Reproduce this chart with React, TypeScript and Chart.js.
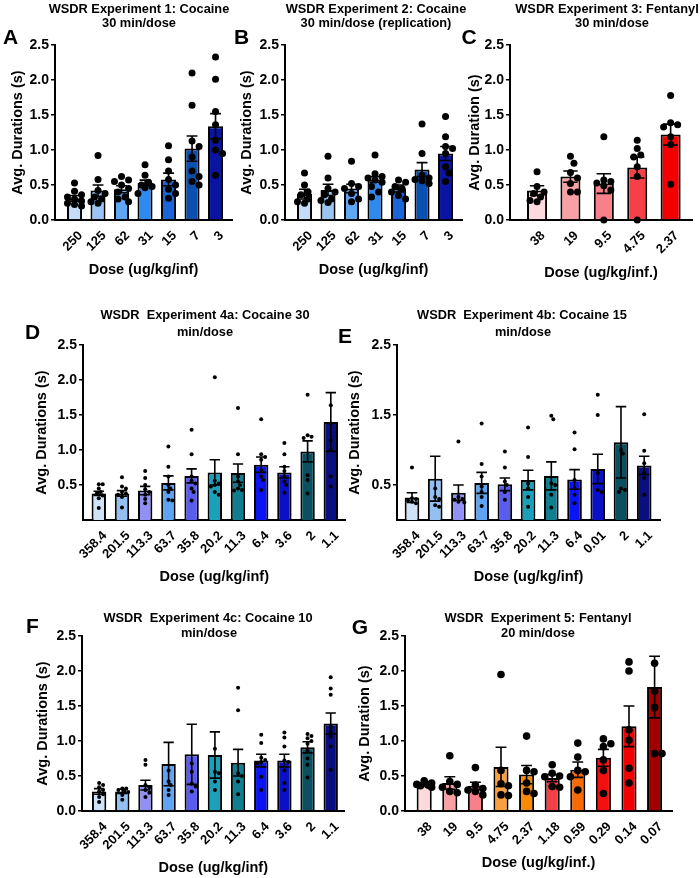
import React, { useEffect, useRef } from 'react';
import { Chart, registerables } from 'chart.js';
Chart.register(...registerables);

const FONT = "'Liberation Sans', Arial, Helvetica, sans-serif";

// ---------- DATA ----------
const labelsA = ['250', '125', '62', '31', '15', '7', '3'];
const meanA = [0.31, 0.42, 0.44, 0.53, 0.58, 1.02, 1.34];
const semA = [0.04, 0.08, 0.05, 0.04, 0.09, 0.18, 0.18];
const ptsA = [
  [0.53, 0.41, 0.36, 0.33, 0.30, 0.27, 0.24, 0.22, 0.20],
  [0.92, 0.58, 0.42, 0.38, 0.33, 0.30, 0.26, 0.24],
  [0.62, 0.57, 0.55, 0.50, 0.45, 0.40, 0.33, 0.30, 0.26],
  [0.79, 0.64, 0.54, 0.50, 0.48, 0.46, 0.38],
  [1.06, 0.86, 0.70, 0.58, 0.50, 0.44, 0.38, 0.31],
  [2.10, 1.64, 1.13, 1.05, 0.90, 0.70, 0.62, 0.55, 0.50],
  [2.33, 2.01, 1.55, 1.36, 1.14, 1.00, 0.95, 0.64],
];

const labelsB = ['250', '125', '62', '31', '15', '7', '3'];
const meanB = [0.37, 0.43, 0.45, 0.58, 0.45, 0.72, 0.95];
const semB = [0.07, 0.08, 0.06, 0.04, 0.05, 0.10, 0.10];
const ptsB = [
  [0.67, 0.50, 0.40, 0.36, 0.30, 0.26, 0.24],
  [0.91, 0.60, 0.45, 0.40, 0.36, 0.30, 0.28, 0.25],
  [0.84, 0.52, 0.48, 0.45, 0.38, 0.30, 0.26],
  [0.93, 0.66, 0.62, 0.60, 0.57, 0.54, 0.48, 0.40, 0.33],
  [0.57, 0.54, 0.48, 0.45, 0.40, 0.35, 0.30],
  [1.37, 0.95, 0.64, 0.60, 0.58, 0.56, 0.52],
  [1.48, 1.19, 1.05, 1.02, 0.95, 0.76, 0.67, 0.55],
];

const labelsC = ['38', '19', '9.5', '4.75', '2.37'];
const meanC = [0.42, 0.62, 0.52, 0.75, 1.22];
const semC = [0.07, 0.08, 0.14, 0.15, 0.15];
const ptsC = [
  [0.69, 0.48, 0.40, 0.38, 0.33, 0.28, 0.26],
  [0.91, 0.81, 0.68, 0.60, 0.52, 0.40, 0.40],
  [1.19, 0.57, 0.55, 0.53, 0.49, 0.43, 0.0],
  [1.14, 1.02, 0.93, 0.90, 0.76, 0.62, 0.0],
  [1.78, 1.39, 1.36, 1.33, 1.19, 1.08, 0.51],
];

const labelsD = ['358.4', '201.5', '113.3', '63.7', '35.8', '20.2', '11.3', '6.4', '3.6', '2', '1.1'];
const meanD = [0.38, 0.38, 0.42, 0.53, 0.63, 0.68, 0.67, 0.79, 0.68, 0.98, 1.40];
const semD = [0.03, 0.04, 0.06, 0.10, 0.10, 0.18, 0.13, 0.11, 0.08, 0.15, 0.42];
const ptsD = [
  [0.51, 0.51, 0.45, 0.40, 0.38, 0.35, 0.31, 0.17],
  [0.61, 0.48, 0.45, 0.40, 0.38, 0.36, 0.33, 0.18],
  [0.70, 0.60, 0.50, 0.44, 0.40, 0.36, 0.30, 0.24],
  [1.05, 0.76, 0.62, 0.50, 0.45, 0.40, 0.29, 0.28],
  [1.29, 0.94, 0.62, 0.56, 0.52, 0.45, 0.40, 0.28],
  [2.04, 0.56, 0.52, 0.50, 0.48, 0.40, 0.36],
  [1.60, 0.94, 0.62, 0.55, 0.50, 0.45, 0.43, 0.42],
  [1.44, 0.94, 0.90, 0.86, 0.71, 0.62, 0.57, 0.43],
  [1.10, 0.94, 0.76, 0.70, 0.62, 0.55, 0.50, 0.39],
  [1.79, 1.21, 1.19, 1.17, 0.64, 0.57, 0.38],
  [1.64, 1.38, 1.14, 1.00, 0.62, 0.48],
];

const labelsE = ['358.4', '201.5', '113.3', '63.7', '35.8', '20.2', '11.3', '6.4', '0.01', '2', '1.1'];
const meanE = [0.32, 0.59, 0.39, 0.53, 0.51, 0.57, 0.63, 0.58, 0.73, 1.11, 0.78];
const semE = [0.07, 0.32, 0.11, 0.15, 0.09, 0.14, 0.20, 0.14, 0.21, 0.51, 0.13];
const ptsE = [
  [0.75, 0.31, 0.30, 0.28, 0.26, 0.24],
  [0.45, 0.33, 0.30, 0.21, 0.19],
  [1.12, 0.33, 0.30, 0.29, 0.26, 0.25],
  [1.38, 0.80, 0.62, 0.48, 0.40, 0.33, 0.20],
  [0.98, 0.75, 0.55, 0.50, 0.40, 0.29],
  [1.32, 0.90, 0.52, 0.45, 0.33, 0.19],
  [1.49, 1.44, 0.52, 0.50, 0.36, 0.18],
  [1.25, 1.01, 0.57, 0.45, 0.36, 0.24],
  [1.79, 1.50, 0.67, 0.43, 0.40],
  [1.00, 0.95, 0.45, 0.43, 0.40],
  [1.51, 0.99, 0.81, 0.67, 0.60, 0.36],
];

const labelsF = ['358.4', '201.5', '113.3', '63.7', '35.8', '20.2', '11.3', '6.4', '3.6', '2', '1.1'];
const meanF = [0.28, 0.28, 0.37, 0.67, 0.81, 0.80, 0.69, 0.72, 0.72, 0.91, 1.25];
const semF = [0.04, 0.03, 0.07, 0.31, 0.43, 0.33, 0.19, 0.09, 0.09, 0.08, 0.15];
const ptsF = [
  [0.40, 0.37, 0.34, 0.30, 0.28, 0.24, 0.20, 0.13],
  [0.32, 0.32, 0.30, 0.29, 0.27, 0.23, 0.16],
  [0.73, 0.66, 0.37, 0.34, 0.30, 0.26, 0.20],
  [0.58, 0.42, 0.37, 0.30, 0.23],
  [0.68, 0.56, 0.39, 0.35, 0.28],
  [0.89, 0.56, 0.54, 0.42, 0.30],
  [1.76, 1.44, 0.54, 0.50, 0.42, 0.24],
  [1.09, 0.97, 0.76, 0.73, 0.70, 0.68, 0.49, 0.30],
  [1.12, 1.05, 0.92, 0.72, 0.70, 0.58, 0.40, 0.30],
  [1.10, 1.07, 1.04, 1.00, 0.96, 0.86, 0.75, 0.66, 0.48],
  [1.91, 1.75, 1.66, 1.20, 1.13, 1.06, 0.92, 0.59],
];

const labelsG = ['38', '19', '9.5', '4.75', '2.37', '1.18', '0.59', '0.29', '0.14', '0.07'];
const meanG = [0.38, 0.40, 0.36, 0.63, 0.52, 0.47, 0.59, 0.76, 1.21, 1.77];
const semG = [0.02, 0.09, 0.05, 0.28, 0.13, 0.05, 0.11, 0.12, 0.29, 0.44];
const ptsG = [
  [0.43, 0.40, 0.38, 0.37, 0.36, 0.34],
  [0.79, 0.42, 0.38, 0.34, 0.28, 0.26],
  [0.62, 0.37, 0.32, 0.30, 0.28, 0.23],
  [1.95, 0.58, 0.39, 0.36, 0.23, 0.22],
  [1.07, 0.58, 0.56, 0.40, 0.28, 0.25],
  [0.66, 0.54, 0.50, 0.49, 0.35, 0.34],
  [0.97, 0.77, 0.58, 0.56, 0.49, 0.30],
  [1.03, 0.96, 0.92, 0.73, 0.58, 0.25],
  [2.13, 2.00, 1.16, 1.01, 0.61, 0.40],
  [2.11, 1.71, 1.48, 0.82, 0.82],
];

const yTicksFull = [0, 0.5, 1.0, 1.5, 2.0, 2.5];
const yTicksD = [0.5, 1.0, 1.5, 2.0, 2.5];
const yTicksE = [0.5, 1.5, 2.5];

// ---------- STYLES ----------
const blues7 = ['#c5dcf8', '#9ac4f5', '#5fa6f3', '#2f8af0', '#1a66d8', '#0a50b0', '#0a14a0'];
const reds5 = ['#fcd9dc', '#f9a0a5', '#f7808a', '#f64048', '#f50000'];
const blues11 = ['#cfe2f8', '#93bff2', '#9090f5', '#5ea4f2', '#5a5cf0', '#1aa0b8', '#0f7f8f', '#0a14f5', '#0a10c8', '#0a5060', '#0a0f80'];
const reds10 = ['#fcdadc', '#f9a0a5', '#f7808a', '#f8a040', '#f88a05', '#f54048', '#f86a05', '#f51010', '#f50000', '#a00000'];

const AXIS_TITLE_SIZE = 14.5;

type Spec = {
  letter: string; title: string[]; yTitle: string; xTitle: string;
  labels: string[]; means: number[]; sems: number[]; points: number[][];
  colors: string[]; yTicks: number[];
  box: { left: number; top: number; w: number; h: number };
  area: { L: number; T: number; R: number; B: number };
  xMin: number; xMax: number; barFrac: number; dot: number; swX: number; swY: number;
  yTitleX: number; xTitleY: number; titlePos: [number, number][]; letterPos: [number, number];
};

const specs: Spec[] = [
  {
    letter: 'A', title: ['WSDR Experiment 1: Cocaine', '30 min/dose'], yTitle: 'Avg. Durations (s)', xTitle: 'Dose (ug/kg/inf)',
    labels: labelsA, means: meanA, sems: semA, points: ptsA, colors: blues7, yTicks: yTicksFull,
    box: { left: 0, top: 0, w: 236, h: 290 }, area: { L: 55, T: 45, R: 232, B: 220 },
    xMin: -0.83, xMax: 6.7, barFrac: 0.64, dot: 3.5, swX: 0.3, swY: 0.1,
    yTitleX: 18, xTitleY: 270, titlePos: [[139, 9], [139, 23]], letterPos: [10.5, 35.5],
  },
  {
    letter: 'B', title: ['WSDR Experiment 2: Cocaine', '30 min/dose (replication)'], yTitle: 'Avg. Durations (s)', xTitle: 'Dose (ug/kg/inf)',
    labels: labelsB, means: meanB, sems: semB, points: ptsB, colors: blues7, yTicks: yTicksFull,
    box: { left: 230, top: 0, w: 236, h: 290 }, area: { L: 285, T: 45, R: 462, B: 220 },
    xMin: -0.83, xMax: 6.7, barFrac: 0.64, dot: 3.5, swX: 0.3, swY: 0.1,
    yTitleX: 247, xTitleY: 270, titlePos: [[376, 9], [376, 23]], letterPos: [241.5, 35.5],
  },
  {
    letter: 'C', title: ['WSDR Experiment 3: Fentanyl', '30 min/dose'], yTitle: 'Avg. Duration (s)', xTitle: 'Dose (ug/kg/inf.)',
    labels: labelsC, means: meanC, sems: semC, points: ptsC, colors: reds5, yTicks: yTicksFull,
    box: { left: 460, top: 0, w: 240, h: 290 }, area: { L: 510, T: 45, R: 692, B: 220 },
    xMin: -0.81, xMax: 4.64, barFrac: 0.6, dot: 3.5, swX: 0.21, swY: 0.1,
    yTitleX: 475, xTitleY: 273, titlePos: [[607, 9], [612, 23]], letterPos: [469, 36],
  },
  {
    letter: 'D', title: ['WSDR  Experiment 4a: Cocaine 30', 'min/dose'], yTitle: 'Avg. Durations (s)', xTitle: 'Dose (ug/kg/inf)',
    labels: labelsD, means: meanD, sems: semD, points: ptsD, colors: blues11, yTicks: yTicksD,
    box: { left: 0, top: 300, w: 350, h: 290 }, area: { L: 83, T: 345, R: 347, B: 520 },
    xMin: -0.68, xMax: 10.63, barFrac: 0.62, dot: 2, swX: 0.17, swY: 0.057,
    yTitleX: 42, xTitleY: 577, titlePos: [[205, 315], [205, 332]], letterPos: [32.5, 331],
  },
  {
    letter: 'E', title: ['WSDR  Experiment 4b: Cocaine 15', 'min/dose'], yTitle: 'Avg. Durations (s)', xTitle: 'Dose (ug/kg/inf)',
    labels: labelsE, means: meanE, sems: semE, points: ptsE, colors: blues11, yTicks: yTicksE,
    box: { left: 340, top: 300, w: 360, h: 290 }, area: { L: 397, T: 345, R: 660, B: 520 },
    xMin: -0.645, xMax: 10.68, barFrac: 0.63, dot: 2, swX: 0.17, swY: 0.057,
    yTitleX: 355, xTitleY: 577, titlePos: [[522, 315], [523, 332]], letterPos: [345, 334.5],
  },
  {
    letter: 'F', title: ['WSDR  Experiment 4c: Cocaine 10', 'min/dose'], yTitle: 'Avg. Durations (s)', xTitle: 'Dose (ug/kg/inf)',
    labels: labelsF, means: meanF, sems: semF, points: ptsF, colors: blues11, yTicks: yTicksFull,
    box: { left: 0, top: 590, w: 350, h: 288 }, area: { L: 82, T: 636, R: 345, B: 811 },
    xMin: -0.74, xMax: 10.59, barFrac: 0.62, dot: 2, swX: 0.17, swY: 0.057,
    yTitleX: 43, xTitleY: 868, titlePos: [[208, 618], [209, 633]], letterPos: [32.5, 624.5],
  },
  {
    letter: 'G', title: ['WSDR  Experiment 5: Fentanyl', '20 min/dose'], yTitle: 'Avg. Duration (s)', xTitle: 'Dose (ug/kg/inf.)',
    labels: labelsG, means: meanG, sems: semG, points: ptsG, colors: reds10, yTicks: yTicksFull,
    box: { left: 350, top: 590, w: 350, h: 288 }, area: { L: 405, T: 636, R: 672, B: 811 },
    xMin: -0.75, xMax: 9.68, barFrac: 0.59, dot: 3.8, swX: 0.29, swY: 0.105,
    yTitleX: 365, xTitleY: 863, titlePos: [[538, 618], [538, 633]], letterPos: [360, 626],
  },
];

// simple deterministic beeswarm (offsets in category units)
function swarm(vals: number[], dx: number, dy: number): number[] {
  const order = vals.map((_, i) => i).sort((a, b) => vals[b] - vals[a]);
  const placed: { x: number; y: number }[] = [];
  const out = new Array(vals.length).fill(0);
  const cands: number[] = [0];
  for (let k = 1; k * dx * 0.5 <= 0.31; k++) { cands.push(k * dx * 0.5, -k * dx * 0.5); }
  for (const i of order) {
    const y = vals[i];
    let best = 0, bestD = -1;
    for (const c of cands) {
      let dmin = Infinity;
      for (const p of placed) {
        const d = ((c - p.x) / dx) ** 2 + ((y - p.y) / dy) ** 2;
        if (d < dmin) dmin = d;
      }
      if (dmin >= 1) { best = c; break; }
      if (dmin > bestD) { bestD = dmin; best = c; }
    }
    placed.push({ x: best, y });
    out[i] = best;
  }
  return out;
}

function errorBars(sems: number[]) {
  return {
    id: 'errorBars',
    afterDatasetsDraw(chart: any) {
      const meta = chart.getDatasetMeta(0);
      const ys = chart.scales.y;
      const data = chart.data.datasets[0].data as { x: number; y: number }[];
      const ctx = chart.ctx;
      ctx.save();
      ctx.strokeStyle = '#000';
      ctx.lineWidth = 1.6;
      meta.data.forEach((bar: any, i: number) => {
        const m = data[i].y;
        const top = ys.getPixelForValue(m + sems[i]);
        const bot = ys.getPixelForValue(Math.max(0, m - sems[i]));
        const w = bar.width * 0.72;
        ctx.beginPath();
        ctx.moveTo(bar.x, top); ctx.lineTo(bar.x, bot);
        ctx.moveTo(bar.x - w / 2, top); ctx.lineTo(bar.x + w / 2, top);
        ctx.moveTo(bar.x - w / 2, bot); ctx.lineTo(bar.x + w / 2, bot);
        ctx.stroke();
      });
      ctx.restore();
    },
  };
}

function buildConfig(p: Spec): any {
  const { box, area } = p;
  const yWidth = area.L - box.left;
  const xHeight = box.top + box.h - area.B;
  const lh = AXIS_TITLE_SIZE * 1.2;
  const bars = p.means.map((m, i) => ({ x: i, y: m }));
  const pts = p.points.flatMap((arr, i) => {
    const off = swarm(arr, p.swX, p.swY);
    return arr.map((v, j) => ({ x: i + off[j], y: v }));
  });
  return {
    type: 'bar',
    data: {
      datasets: [
        {
          type: 'bar', data: bars, backgroundColor: p.colors, borderColor: '#000', borderWidth: 2,
          barPercentage: p.barFrac, categoryPercentage: 1, order: 2,
        },
        {
          type: 'scatter', data: pts, pointRadius: p.dot, pointHoverRadius: p.dot,
          pointBackgroundColor: '#000', pointBorderColor: '#000', pointBorderWidth: 0, order: 1, clip: false,
        },
      ],
    },
    options: {
      responsive: false,
      animation: false,
      events: [],
      layout: { padding: { left: 0, top: area.T - box.top, right: box.left + box.w - area.R, bottom: 0 } },
      plugins: { legend: { display: false }, tooltip: { enabled: false }, title: { display: false } },
      scales: {
        x: {
          type: 'linear', min: p.xMin, max: p.xMax, offset: false, bounds: 'data',
          afterBuildTicks: (s: any) => { s.ticks = p.labels.map((_, i) => ({ value: i })); },
          afterFit: (s: any) => { s.height = xHeight; },
          ticks: {
            autoSkip: false, minRotation: 45, maxRotation: 45, color: '#000', padding: 8, labelOffset: 6,
            font: { family: FONT, size: 13, weight: 'bold' },
            callback: (v: any) => p.labels[Math.round(v)] ?? '',
          },
          grid: { display: false, drawTicks: false },
          border: { display: true, color: '#000', width: 2 },
          title: {
            display: true, text: p.xTitle, color: '#000',
            font: { family: FONT, size: AXIS_TITLE_SIZE, weight: 'bold' },
            padding: { top: 0, bottom: box.top + box.h - p.xTitleY - lh / 2 },
          },
        },
        y: {
          type: 'linear', min: 0, max: 2.5,
          afterBuildTicks: (s: any) => { s.ticks = p.yTicks.map((v) => ({ value: v })); },
          afterFit: (s: any) => { s.width = yWidth; },
          ticks: {
            color: '#000', padding: 2, font: { family: FONT, size: 14, weight: 'bold' },
            callback: (v: any) => Number(v).toFixed(1),
          },
          grid: { display: true, drawOnChartArea: false, drawTicks: true, tickLength: 4, color: '#000', lineWidth: 1.5 },
          border: { display: true, color: '#000', width: 2 },
          title: {
            display: true, text: p.yTitle, color: '#000',
            font: { family: FONT, size: AXIS_TITLE_SIZE, weight: 'bold' },
            padding: { top: p.yTitleX - box.left - lh / 2, bottom: 0 },
          },
        },
      },
    },
    plugins: [errorBars(p.sems)],
  };
}

function Panel({ spec }: { spec: Spec }) {
  const ref = useRef<HTMLCanvasElement>(null);
  useEffect(() => {
    const chart = new Chart(ref.current as HTMLCanvasElement, buildConfig(spec));
    return () => chart.destroy();
  }, [spec]);
  const { box } = spec;
  return (
    <canvas
      ref={ref}
      width={box.w}
      height={box.h}
      style={{ position: 'absolute', left: box.left, top: box.top, width: box.w, height: box.h }}
    />
  );
}

const centered = (x: number, y: number, size: number): React.CSSProperties => ({
  position: 'absolute', left: x, top: y, transform: 'translate(-50%, -50%)', whiteSpace: 'pre',
  fontFamily: FONT, fontWeight: 700, fontSize: size, lineHeight: 1, color: '#000',
});

export default function App() {
  return (
    <div style={{ position: 'absolute', left: 0, top: 0, width: 700, height: 878, background: '#fff', overflow: 'hidden' }}>
      {specs.map((s) => <Panel key={s.letter} spec={s} />)}
      {specs.map((s) => (
        <React.Fragment key={'t' + s.letter}>
          {s.title.map((line, i) => (
            <div key={i} style={centered(s.titlePos[i][0], s.titlePos[i][1], 12.8)}>{line}</div>
          ))}
          <div style={centered(s.letterPos[0], s.letterPos[1], 21)}>{s.letter}</div>
        </React.Fragment>
      ))}
    </div>
  );
}
